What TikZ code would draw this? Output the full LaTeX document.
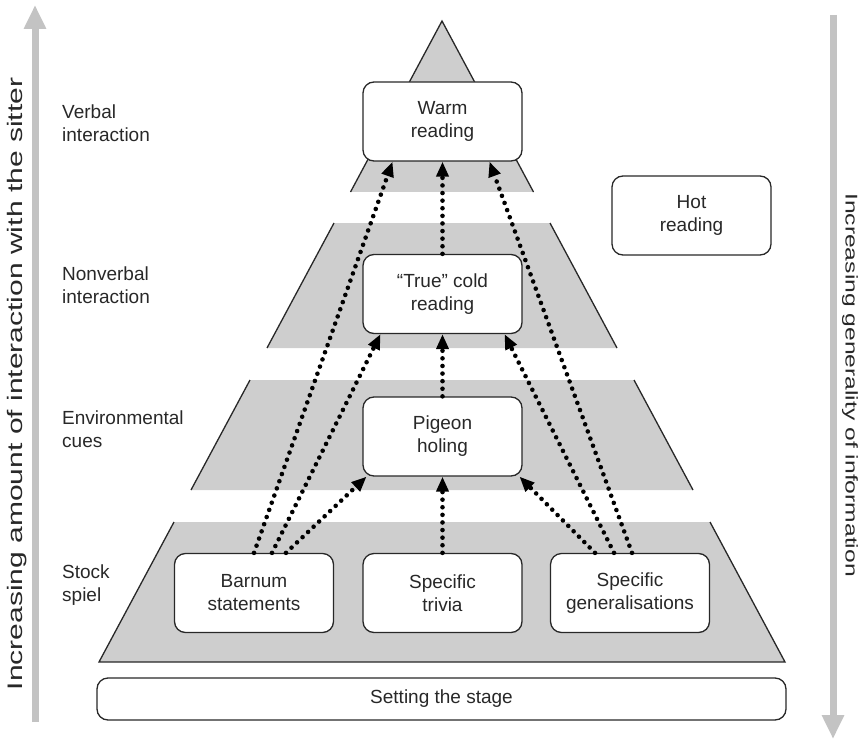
\documentclass[tikz,border=0pt]{standalone}
\usepackage{fontspec}
\setmainfont{Liberation Sans}
\usetikzlibrary{arrows.meta,calc}
\definecolor{bandgray}{RGB}{206,206,206}
\definecolor{sidegray}{RGB}{195,195,195}
\definecolor{ink}{RGB}{40,40,40}
\begin{document}
\begin{tikzpicture}[x=1pt,y=-1pt,
  txt/.style={text=ink,font=\fontsize{19}{23}\selectfont},
  box/.style={txt,draw=ink,line width=1.3pt,rounded corners=11pt,fill=white,
    minimum width=159pt,minimum height=79pt,align=center,inner sep=0pt},
  band/.style={fill=bandgray},
  slope/.style={draw=ink,line width=1.3pt},
  conn/.style={line width=4.6pt,dash pattern=on 0pt off 7.6pt,line cap=round,
    -{Triangle[length=15pt,width=12pt]}},
  side/.style={draw=sidegray,line width=7pt,-{Triangle[length=24pt,width=21pt]}},
  lab/.style={txt,anchor=west,align=left,inner sep=0pt}]
\useasboundingbox (0,0) rectangle (866,743);
% pyramid bands (apex 442,21; half width = 0.535*(y-21))
\fill[band] (442,21) -- (350.5,192) -- (533.5,192) -- cycle;
\fill[band] (334,223) -- (550,223) -- (617,348) -- (267,348) -- cycle;
\fill[band] (250,380) -- (634,380) -- (693,490) -- (191,490) -- cycle;
\fill[band] (174,522) -- (710,522) -- (785,662) -- (99,662) -- cycle;
\draw[slope] (350.5,192) -- (442,21) -- (533.5,192);
\draw[slope] (334,223) -- (267,348);
\draw[slope] (550,223) -- (617,348);
\draw[slope] (250,380) -- (191,490);
\draw[slope] (634,380) -- (693,490);
\draw[slope] (174,522) -- (99,662) -- (785,662) -- (710,522);
% side arrows
\coordinate (lb) at (35,722);
\coordinate (lt) at (35,5);
\coordinate (rt) at (833,15);
\coordinate (rb) at (833,739);
\draw[side] (lb) -- (lt);
\draw[side] (rt) -- (rb);
\node[txt,rotate=90,font=\fontsize{21}{25}\selectfont,inner sep=0pt] (ltext) at (17,384)
  {\scalebox{1.43}[1]{Increasing amount of interaction with the sitter}};
\node[txt,rotate=-90,font=\fontsize{17}{21}\selectfont,inner sep=0pt] (rtext) at (850,385)
  {\scalebox{1.45}[1]{Increasing generality of information}};
% level labels
\node[lab] (l1) at (62,123.5) {Verbal\\interaction};
\node[lab] (l2) at (62,285) {Nonverbal\\interaction};
\node[lab] (l3) at (62,429.5) {Environmental\\cues};
\node[lab] (l4) at (62,585) {Stock\\spiel};
% boxes
\node[box] (warm) at (442.5,121.5) {Warm\\reading};
\node[box] (cold) at (442.5,294) {``True'' cold\\reading};
\node[box] (pigeon) at (442.5,436.5) {Pigeon\\holing};
\node[box] (barnum) at (254,593) {Barnum\\statements};
\node[box] (trivia) at (442.5,593) {Specific\\trivia};
\node[box] (gen) at (630,593) {Specific\\generalisations};
\node[box] (hot) at (691.5,215.5) {Hot\\reading};
\node[box,minimum width=689pt,minimum height=42pt] (stage) at (441.5,699) {Setting the stage};
% connectors
\draw[conn] (barnum.north) -- ([xshift=-50pt]warm.south);
\draw[conn] ([xshift=18pt]barnum.north) -- ([xshift=-62pt]cold.south);
\draw[conn] ([xshift=32pt]barnum.north) -- ([xshift=-76pt]pigeon.south);
\draw[conn] (trivia.north) -- (pigeon.south);
\draw[conn] (pigeon.north) -- (cold.south);
\draw[conn] (cold.north) -- (warm.south);
\draw[conn] ([xshift=-35pt]gen.north) -- ([xshift=77pt]pigeon.south);
\draw[conn] ([xshift=-16pt]gen.north) -- ([xshift=62pt]cold.south);
\draw[conn] ([xshift=2pt]gen.north) -- ([xshift=47pt]warm.south);
\end{tikzpicture}
\end{document}
